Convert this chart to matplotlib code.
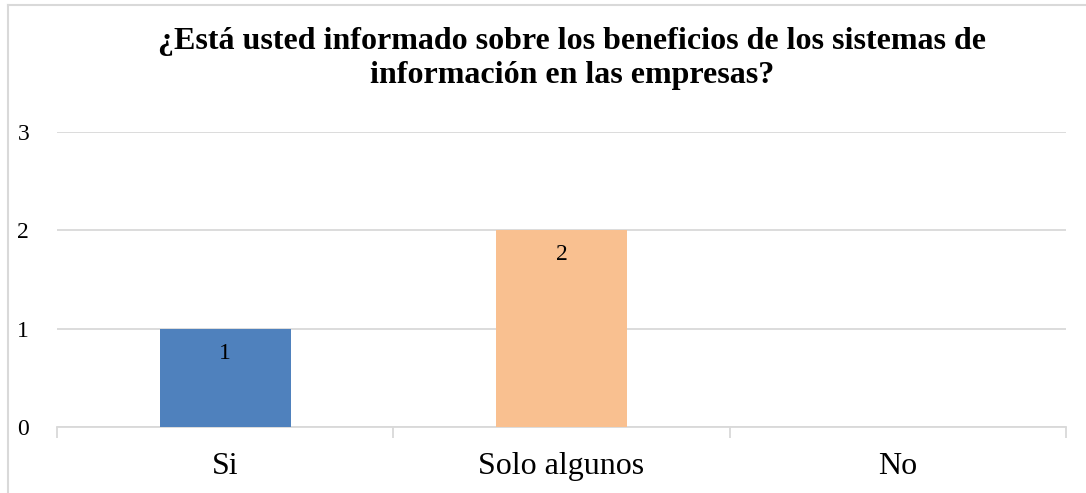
import matplotlib.pyplot as plt
from matplotlib.lines import Line2D

categories = ["Si", "Solo algunos", "No"]
values = [1, 2, 0]
colors = ["#4F81BD", "#F9C090", "#9BBB59"]
title_lines = ["¿Está usted informado sobre los beneficios de los sistemas de",
               "información en las empresas?"]

plt.rcParams['font.family'] = ['Liberation Serif', 'DejaVu Serif']

fig = plt.figure(figsize=(10.86, 4.93), dpi=100)
ax = fig.add_axes([57 / 1086, 1 - 427 / 493, (1066 - 57) / 1086, (427 - 132) / 493])

x = range(len(categories))
bars = ax.bar(x, values, width=0.39, color=colors, zorder=3)
for b, v in zip(bars, values):
    if v > 0:
        ax.text(b.get_x() + b.get_width() / 2, v - 0.25, str(v),
                ha='center', va='center', fontsize=17, color='#000000', zorder=4)

ax.set_xlim(-0.5, 2.5)
ax.set_ylim(0, 3)
ax.set_yticks([0, 1, 2, 3])
ax.yaxis.grid(True, color='#D9D9D9', linewidth=1.3, zorder=0)
ax.tick_params(axis='y', length=0, labelsize=17, pad=20)

ax.set_xticks(list(x))
ax.set_xticklabels(categories, fontsize=23)
ax.tick_params(axis='x', length=0, pad=18)
ax.set_xticks([-0.5, 0.5, 1.5, 2.5], minor=True)
ax.tick_params(axis='x', which='minor', length=8, color='#D9D9D9', width=1.3, direction='out')

for s in ['top', 'right', 'left']:
    ax.spines[s].set_visible(False)
ax.spines['bottom'].set_color('#D9D9D9')
ax.spines['bottom'].set_linewidth(1.3)

# title, one text per line to control the spacing
for ypix, line in zip([42, 75], title_lines):
    fig.text(572 / 1086, 1 - ypix / 493, line, ha='center', va='center',
             fontsize=23, fontweight='bold')

# outer chart border (left and top only, as cropped)
fig.add_artist(Line2D([7.5 / 1086, 7.5 / 1086], [0, 1 - 5 / 493], transform=fig.transFigure,
                      color='#D9D9D9', linewidth=1.5))
fig.add_artist(Line2D([7.5 / 1086, 1], [1 - 5 / 493, 1 - 5 / 493], transform=fig.transFigure,
                      color='#D9D9D9', linewidth=1.5))

fig.savefig('out.png', dpi=100, facecolor='white')
